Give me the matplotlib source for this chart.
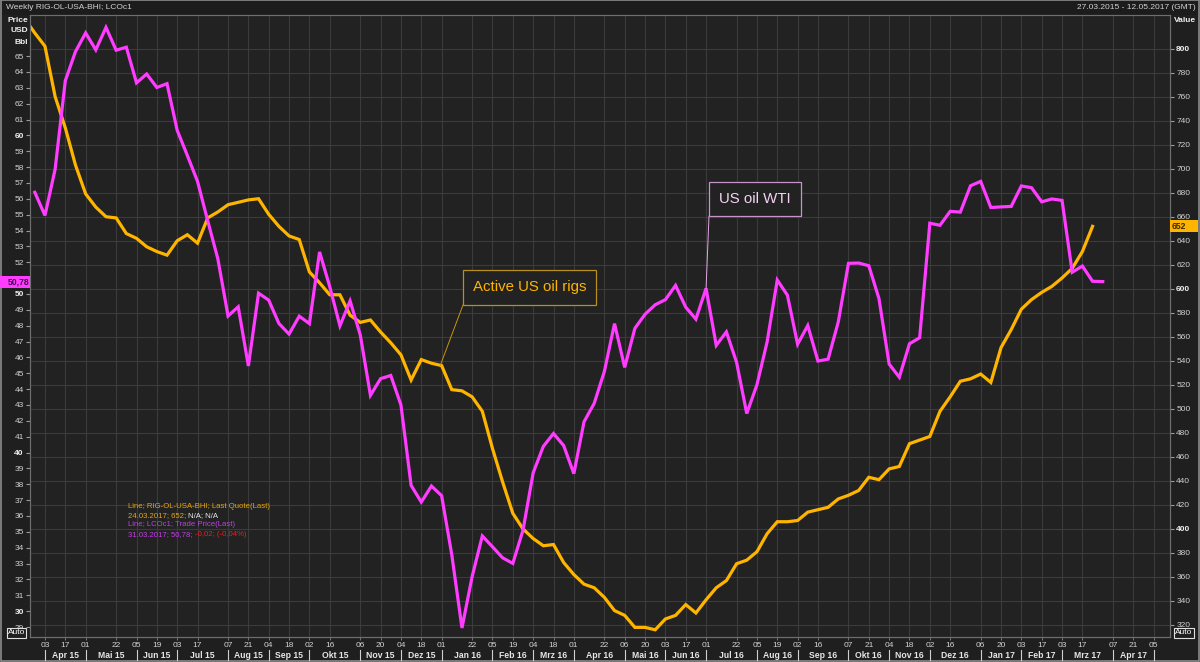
import matplotlib
matplotlib.use('Agg')
import matplotlib.pyplot as plt
import matplotlib.dates as mdates
import matplotlib.transforms as mtransforms
from matplotlib.patches import Rectangle
from matplotlib.lines import Line2D
import pandas as pd

# weekly US oil rig count (right axis)
rig_dates = pd.date_range('2015-03-20', '2017-03-24', freq='7D')
rig_count = [825, 813, 802, 760, 734, 703, 679, 668, 660, 659, 646, 642, 635, 631, 628,
             640, 645, 638, 659, 664, 670, 672, 674, 675, 662, 652, 644, 641, 614, 605,
             595, 595, 578, 572, 574, 564, 555, 545, 524, 541, 538,
             536, 516, 515, 510, 498, 467, 439, 413, 400, 392, 386, 387, 372, 362, 354,
             351, 343, 332, 328, 318, 318, 316, 325, 328, 337, 330, 341, 351, 357, 371,
             374, 381, 396, 406, 406, 407, 414, 416, 418, 425, 428, 432, 443, 441, 450,
             452, 471, 474, 477, 498, 510, 523, 525,
             529, 522, 551, 566, 583, 591, 597, 602, 609, 617, 631, 652]

# weekly Brent LCOc1 close (left axis)
brent_dates = pd.date_range('2015-03-27', '2017-03-31', freq='7D')
brent_price = [56.41, 54.95, 57.87, 63.45, 65.28, 66.46, 65.39, 66.81, 65.37, 65.56,
               63.31, 63.87, 63.02, 63.26, 60.32, 58.73, 57.10, 54.62, 52.21, 48.61,
               49.19, 45.46, 50.05, 49.61, 48.14, 47.47, 48.60, 48.13, 52.65, 50.46,
               47.99, 49.56, 47.42, 43.61, 44.66, 44.86, 43.00, 37.93, 36.88, 37.89,
               37.28, 33.55, 28.94, 32.18, 34.74, 34.06, 33.36, 33.01, 35.10, 38.72,
               40.39, 41.20, 40.44, 38.67, 41.94, 43.10, 45.11, 48.13, 45.37, 47.83,
               48.72, 49.32, 49.64, 50.54, 49.17, 48.41, 50.35, 46.76, 47.61, 45.69,
               42.46, 44.27, 46.97, 50.88, 49.92, 46.83, 48.01, 45.77, 45.89, 48.24,
               51.93, 51.95, 51.78, 49.71, 45.58, 44.75, 46.86, 47.24, 54.46, 54.33,
               55.21, 55.16, 56.82, 57.10, 55.45, 55.49, 55.52, 56.81, 56.70, 55.81,
               55.99, 55.90, 51.37, 51.76, 50.80, 50.78]

tick_days = ['2015-04-03', '2015-04-17', '2015-05-01', '2015-05-22', '2015-06-05', '2015-06-19',
             '2015-07-03', '2015-07-17', '2015-08-07', '2015-08-21', '2015-09-04', '2015-09-18',
             '2015-10-02', '2015-10-16', '2015-11-06', '2015-11-20', '2015-12-04', '2015-12-18',
             '2016-01-01', '2016-01-22', '2016-02-05', '2016-02-19', '2016-03-04', '2016-03-18',
             '2016-04-01', '2016-04-22', '2016-05-06', '2016-05-20', '2016-06-03', '2016-06-17',
             '2016-07-01', '2016-07-22', '2016-08-05', '2016-08-19', '2016-09-02', '2016-09-16',
             '2016-10-07', '2016-10-21', '2016-11-04', '2016-11-18', '2016-12-02', '2016-12-16',
             '2017-01-06', '2017-01-20', '2017-02-03', '2017-02-17', '2017-03-03', '2017-03-17',
             '2017-04-07', '2017-04-21', '2017-05-05']
month_names = ['Jan', 'Feb', 'Mrz', 'Apr', 'Mai', 'Jun', 'Jul', 'Aug', 'Sep', 'Okt', 'Nov', 'Dez']
left_ticks = list(range(29, 66))
right_ticks = list(range(320, 801, 20))

BG = '#1e1f1e'
PLOT_BG = '#212221'
GRID = '#3a3b3a'
SPINE = '#6e6e6e'
TXT = '#d2d2d2'
ORANGE = '#ffb400'
MAGENTA = '#ff3cff'

plt.rcParams['font.family'] = ['Liberation Sans', 'DejaVu Sans']

W, H = 1200, 662
fig = plt.figure(figsize=(12, 6.62), dpi=100, facecolor=BG)


def fx(px):
    return px / W


def fy(py):
    return 1 - py / H


ax = fig.add_axes([fx(30), fy(637), fx(1170) - fx(30), fy(15) - fy(637)])
ax2 = ax.twinx()
ax.set_zorder(ax2.get_zorder() + 1)
ax.patch.set_visible(False)
ax2.patch.set_visible(True)
ax2.set_facecolor(PLOT_BG)

ticks = pd.to_datetime(tick_days)
tick_num = mdates.date2num(ticks)
x0 = pd.Timestamp('2015-04-03')
ax.set_xlim(mdates.date2num(x0 - pd.Timedelta(days=10.3)),
            mdates.date2num(x0 + pd.Timedelta(days=774.3)))
ax.set_ylim(28.37, 67.59)
ax2.set_ylim(310, 828)

# grid (on the rear axes so it stays under the lines)
for d in tick_num:
    ax2.axvline(d, color=GRID, lw=0.8, zorder=0.5)
ax2.set_yticks(right_ticks)
ax2.grid(axis='y', color=GRID, lw=0.8)
ax2.set_axisbelow(True)

ax2.plot(mdates.date2num(rig_dates), rig_count, color=ORANGE, lw=2.3, solid_joinstyle='miter', zorder=3)
ax.plot(mdates.date2num(brent_dates), brent_price, color=MAGENTA, lw=2.3, solid_joinstyle='miter', zorder=3)

# x axis: day ticks
ax.set_xticks(tick_num)
ax.set_xticklabels([d.strftime('%d') for d in ticks])
ax.tick_params(axis='x', length=2, pad=1.5, labelsize=6, colors=TXT, color=SPINE)

# left axis
ax.set_yticks(left_ticks)
ax.set_yticklabels([str(v) for v in left_ticks])
ax.tick_params(axis='y', length=3, pad=1.5, labelsize=6, colors=TXT, color='#9a9a9a')
for lbl, v in zip(ax.get_yticklabels(), left_ticks):
    if v % 10 == 0:
        lbl.set_fontweight('bold')
        lbl.set_color('#f0f0f0')

# right axis
ax2.set_yticklabels([str(v) for v in right_ticks])
ax2.tick_params(axis='y', length=3, pad=1.5, labelsize=6, colors=TXT, color='#9a9a9a')
for lbl, v in zip(ax2.get_yticklabels(), right_ticks):
    if v % 200 == 0:
        lbl.set_fontweight('bold')
        lbl.set_color('#f0f0f0')

for a in (ax, ax2):
    for s in a.spines.values():
        s.set_color(SPINE)
        s.set_linewidth(0.8)

# month labels with separators at the first tick of each month
xfig = mtransforms.blended_transform_factory(ax.transData, fig.transFigure)
seps = []
for d in ticks:
    if not seps or (d.year, d.month) != (seps[-1].year, seps[-1].month):
        seps.append(d)
sep_num = mdates.date2num(seps)
for i, d in enumerate(seps):
    fig.add_artist(Line2D([sep_num[i], sep_num[i]], [fy(650), fy(660)], transform=xfig,
                          color='#cfcfcf', lw=0.8))
    if i + 1 < len(seps):
        mid = (sep_num[i] + sep_num[i + 1]) / 2
        fig.text(mid, fy(655), f'{month_names[d.month - 1]} {d.year % 100:02d}', transform=xfig,
                 ha='center', va='center', fontsize=6.2, fontweight='bold', color='#e6e6e6')

# header
fig.add_artist(Rectangle((0, fy(15)), 1, 1 - fy(15), transform=fig.transFigure,
                         facecolor='#1b1c1b', edgecolor='none', zorder=-1))
fig.text(fx(6), fy(7.5), 'Weekly RIG-OL-USA-BHI; LCOc1', fontsize=6, color=TXT, va='center')
fig.text(fx(1196), fy(7.5), '27.03.2015 - 12.05.2017 (GMT)', fontsize=6, color=TXT,
         va='center', ha='right')
for txt, py in [('Price', 20), ('USD', 31), ('Bbl', 42)]:
    fig.text(fx(28), fy(py), txt, fontsize=6, fontweight='bold', color='#f0f0f0',
             ha='right', va='center')
fig.text(fx(1174), fy(20), 'Value', fontsize=6, fontweight='bold', color='#f0f0f0',
         ha='left', va='center')

for cx in (16.5, 1184):
    fig.text(fx(cx), fy(633), 'Auto', fontsize=6, color='white', ha='center', va='center',
             bbox=dict(boxstyle='square,pad=0.15', fc=BG, ec='#e0e0e0', lw=0.8))

# last value tags
yl = mtransforms.blended_transform_factory(fig.transFigure, ax.transData)
yr = mtransforms.blended_transform_factory(fig.transFigure, ax2.transData)
last_brent = brent_price[-1]
last_rig = rig_count[-1]
tag_h = 12 / 15.86
fig.add_artist(Rectangle((0, last_brent - tag_h / 2), fx(30), tag_h, transform=yl,
                         facecolor=MAGENTA, edgecolor='none', zorder=5))
fig.text(fx(29), last_brent, f'{last_brent:.2f}'.replace('.', ','), transform=yl, ha='right',
         va='center', fontsize=6.2, fontweight='bold', color='#3b0a4a', zorder=6)
tag_h2 = 12 / 1.2
fig.add_artist(Rectangle((fx(1170), last_rig - tag_h2 / 2), fx(28), tag_h2, transform=yr,
                         facecolor=ORANGE, edgecolor='none', zorder=5))
fig.text(fx(1172), last_rig, str(last_rig), transform=yr, ha='left', va='center',
         fontsize=6.2, fontweight='bold', color='#3a2a00', zorder=6)

# callouts
rig_anchor = (mdates.date2num(pd.Timestamp('2015-12-31')), rig_count[41])
ax2.annotate('', xy=rig_anchor, xytext=(463, H - 305), textcoords='figure pixels',
             arrowprops=dict(arrowstyle='-', color='#c8960a', lw=0.7, shrinkA=0, shrinkB=0))
fig.add_artist(Rectangle((fx(463), fy(305)), fx(133), fy(270) - fy(305), transform=fig.transFigure,
                         facecolor=PLOT_BG, edgecolor='#b8901e', lw=0.9, zorder=7))
fig.text(fx(529.5), fy(287.5), 'Active US oil rigs', ha='center', va='center', fontsize=10.8,
         color=ORANGE, zorder=8)

wti_anchor = (mdates.date2num(pd.Timestamp('2016-07-01')), brent_price[66])
ax.annotate('', xy=wti_anchor, xytext=(709, H - 216), textcoords='figure pixels',
            arrowprops=dict(arrowstyle='-', color='#e6a6e6', lw=0.7, shrinkA=0, shrinkB=0))
fig.add_artist(Rectangle((fx(709), fy(216)), fx(92), fy(182) - fy(216), transform=fig.transFigure,
                         facecolor=PLOT_BG, edgecolor='#c894c8', lw=0.9, zorder=7))
fig.text(fx(755), fy(199), 'US oil WTI', ha='center', va='center', fontsize=10.8,
         color='#f4d2f4', zorder=8)

# legend text block
renderer = fig.canvas.get_renderer()
legend_rows = [
    (506, [('Line; RIG-OL-USA-BHI; Last Quote(Last)', '#e8a410')]),
    (516, [('24.03.2017; 652; ', '#e8a410'), ('N/A; N/A', '#e8e8e8')]),
    (525, [('Line; LCOc1; Trade Price(Last)', '#c43ee8')]),
    (535, [('31.03.2017; 50,78; ', '#c43ee8'), ('-0,02; (-0,04%)', '#f01e1e')]),
]
for py, parts in legend_rows:
    xpix = 128
    for s, c in parts:
        t = fig.text(fx(xpix), fy(py), s, fontsize=5.6, color=c, va='center', ha='left')
        xpix = t.get_window_extent(renderer).x1

# outer frame
fig.add_artist(Rectangle((0.0005, 0.0008), 0.999, 0.9985, transform=fig.transFigure,
                         fill=False, edgecolor='#8c8c8c', lw=1.2))

fig.savefig('out.png', dpi=100, facecolor=BG)
